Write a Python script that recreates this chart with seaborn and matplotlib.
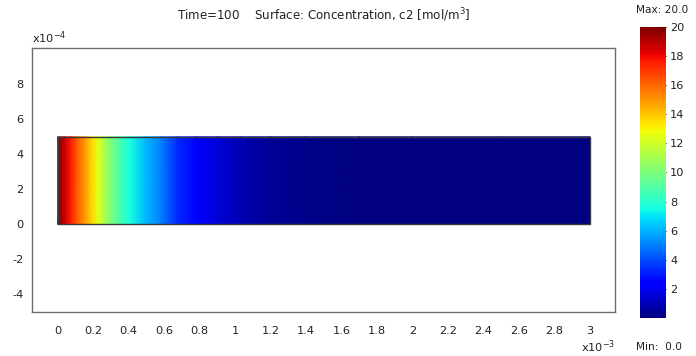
import numpy as np
import matplotlib
matplotlib.use("Agg")
import matplotlib.pyplot as plt
from matplotlib.patches import Rectangle
import seaborn as sns

# ---- data ----
x_mm = [0, 0.04, 0.075, 0.11, 0.15, 0.19, 0.225, 0.26, 0.30, 0.35, 0.41, 0.49,
        0.58, 0.67, 0.78, 0.90, 1.03, 1.20, 1.40, 1.70, 2.00, 2.50, 3.00]   # x in 1e-3 m
conc = [20, 18.7, 17.5, 16.2, 15.0, 13.7, 12.5, 11.2, 10.0, 8.7, 7.5, 6.2,
        5.0, 3.4, 2.4, 1.6, 0.9, 0.45, 0.2, 0.05, 0.01, 0.0, 0.0]          # mol/m^3
y_edges = [0, 5e-4]
x_ticks = [0, 0.2, 0.4, 0.6, 0.8, 1, 1.2, 1.4, 1.6, 1.8, 2, 2.2, 2.4, 2.6, 2.8, 3]
x_ticklabels = ["0", "0.2", "0.4", "0.6", "0.8", "1", "1.2", "1.4", "1.6", "1.8",
                "2", "2.2", "2.4", "2.6", "2.8", "3"]
y_ticks = [-4, -2, 0, 2, 4, 6, 8]
cbar_ticks = [2, 4, 6, 8, 10, 12, 14, 16, 18, 20]
c_min, c_max = 0.0, 20.0
title = "Time=100    Surface: Concentration, c2 [mol/m$^3$]"

sns.set_theme(style="white")
plt.rcParams["font.family"] = ["DejaVu Sans"]
txt = "#222222"
fs = 8.2

fig = plt.figure(figsize=(6.96, 3.56), dpi=100)
W, H = 696, 356
ax = fig.add_axes([32 / W, 1 - 312 / H, (615 - 32) / W, (312 - 47.7) / H])

xs = np.array(x_mm) * 1e-3
X, Y = np.meshgrid(xs, y_edges)
C = np.vstack([conc, conc])
cmap = plt.get_cmap("jet")
mesh = ax.pcolormesh(X, Y, C, shading="gouraud", cmap=cmap, vmin=c_min, vmax=c_max)
ax.add_patch(Rectangle((xs[0], y_edges[0]), xs[-1] - xs[0], y_edges[1] - y_edges[0],
                       fill=False, edgecolor="#3a3a3a", linewidth=1.0))

ax.set_xlim(-0.145e-3, 3.141e-3)
ax.set_ylim(-5.01e-4, 10.09e-4)
ax.set_xticks(np.array(x_ticks) * 1e-3)
ax.set_xticklabels(x_ticklabels)
ax.set_yticks(np.array(y_ticks) * 1e-4)
ax.set_yticklabels([str(v) for v in y_ticks])
ax.tick_params(axis="x", length=0, pad=10, labelsize=fs, labelcolor=txt)
ax.tick_params(axis="y", length=0, pad=6, labelsize=fs, labelcolor=txt)
for s in ax.spines.values():
    s.set_color("#6e6e6e")
    s.set_linewidth(1.0)
ax.set_facecolor("white")

ax.text(0.0, 1.005, "x10$^{-4}$", transform=ax.transAxes, ha="left", va="bottom",
        fontsize=fs, color=txt)
ax.text(1.0, -0.10, "x10$^{-3}$", transform=ax.transAxes, ha="right", va="top",
        fontsize=fs, color=txt)
fig.text((32 + 615) / 2 / W, 1 - 15 / H, title, ha="center", va="center",
         fontsize=8.6, color=txt)

# colorbar
cax = fig.add_axes([640 / W, 1 - 318 / H, 26 / W, (318 - 27) / H])
cb = fig.colorbar(mesh, cax=cax, ticks=cbar_ticks)
cb.outline.set_visible(False)
cax.tick_params(axis="y", which="both", direction="in", length=4, width=0.8,
                color="black", left=True, right=True, pad=3, labelsize=fs,
                labelcolor=txt)
cax.set_yticklabels([str(v) for v in cbar_ticks])
fig.text(636 / W, 1 - 10 / H, "Max: 20.0", ha="left", va="center", fontsize=7.6, color=txt)
fig.text(636 / W, 1 - 347 / H, "Min:  0.0", ha="left", va="center", fontsize=7.6, color=txt)

fig.savefig("out.png", dpi=100)
